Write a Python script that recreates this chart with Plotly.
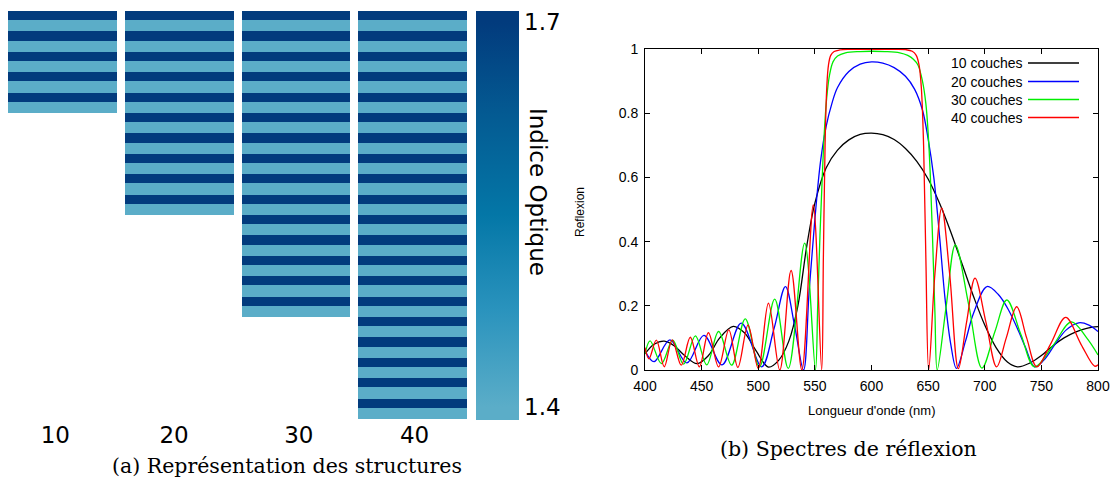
import plotly.graph_objects as go

# ---------------- data: structures ----------------
layer_counts = [10, 20, 30, 40]
stack_labels = ["10", "20", "30", "40"]
n_high = 1.7
n_low = 1.4
d_high = 88.2    # nm, high-index layer thickness
d_low = 107.1    # nm, low-index layer thickness
cbar_ticks = [1.4, 1.7]

# ---------------- data: spectra ----------------
wl10 = [400, 408, 417, 426, 435, 446, 456, 466, 478, 488, 498, 509, 518, 527, 535, 543, 550, 560, 570, 580,
        590, 600, 610, 620, 630, 640, 650, 660, 670, 680, 690, 700, 710, 720, 729, 740, 750, 760, 770, 780, 790, 800]
R10 = [0.05, 0.08, 0.09, 0.075, 0.045, 0.02, 0.045, 0.1, 0.136, 0.115, 0.06, 0.009, 0.03, 0.09, 0.2, 0.39, 0.52,
       0.63, 0.685, 0.717, 0.734, 0.738, 0.733, 0.718, 0.69, 0.65, 0.595, 0.52, 0.43, 0.33, 0.23, 0.14, 0.07,
       0.025, 0.01, 0.022, 0.045, 0.075, 0.1, 0.118, 0.13, 0.135]

wl20 = [400, 408, 422, 437, 452, 468, 485, 503, 514, 524, 532, 540, 545, 550, 555, 560, 565, 570, 580, 590,
        600, 610, 620, 630, 638, 645, 650, 655, 660, 665, 670, 675, 683, 690, 702, 712, 721, 730, 736, 744,
        752, 762, 772, 783, 792, 800]
R20 = [0.06, 0.026, 0.094, 0.022, 0.108, 0.016, 0.146, 0.01, 0.13, 0.26, 0.14, 0.0, 0.25, 0.47, 0.65, 0.76,
       0.83, 0.88, 0.93, 0.953, 0.96, 0.956, 0.942, 0.915, 0.875, 0.81, 0.72, 0.6, 0.42, 0.22, 0.08, 0.005,
       0.09, 0.176, 0.26, 0.235, 0.187, 0.12, 0.07, 0.01, 0.03, 0.08, 0.125, 0.147, 0.14, 0.12]

wl30 = [400, 404.5, 414.5, 424.5, 434, 444.5, 454.5, 465, 476.5, 488.5, 501, 514.5, 526.5, 541, 550.5, 552.5,
        554.5, 556.5, 558.5, 560.5, 563, 566, 570, 577, 590, 600, 612, 625, 632, 637, 641, 645, 648, 650, 652,
        654, 656, 658, 666, 674, 686, 697.5, 709, 719.5, 732, 744, 760, 776.5, 790, 800]
R30 = [0.05, 0.091, 0.02, 0.093, 0.018, 0.106, 0.016, 0.12, 0.015, 0.159, 0.01, 0.221, 0.005, 0.395, 0.0, 0.2,
       0.42, 0.6, 0.75, 0.85, 0.92, 0.96, 0.978, 0.988, 0.992, 0.993, 0.992, 0.988, 0.98, 0.968, 0.95, 0.9,
       0.83, 0.74, 0.6, 0.4, 0.18, 0.0, 0.2, 0.39, 0.2, 0.006, 0.12, 0.218, 0.11, 0.01, 0.075, 0.15, 0.1, 0.047]

wl40 = [400, 403.5, 410, 417, 424, 432, 440, 448, 456, 465, 474, 482, 491, 500, 509, 519, 529, 538.5, 548.6,
        556, 557.5, 559, 560.5, 562, 564, 567, 572, 580, 600, 620, 630, 636, 639.5, 642, 644, 646, 648, 650.5,
        656, 662, 669, 676.7, 684, 691.4, 701, 710.5, 719, 728.2, 737, 746, 758, 771.5, 785, 797, 800]
R40 = [0.07, 0.035, 0.093, 0.01, 0.094, 0.015, 0.102, 0.01, 0.116, 0.01, 0.125, 0.008, 0.14, 0.005, 0.208,
       0.0, 0.31, 0.0, 0.514, 0.0, 0.35, 0.7, 0.88, 0.95, 0.98, 0.992, 0.997, 0.999, 0.999, 0.999, 0.998,
       0.993, 0.98, 0.95, 0.88, 0.7, 0.35, 0.0, 0.3, 0.505, 0.3, 0.004, 0.15, 0.286, 0.15, 0.01, 0.1, 0.197,
       0.1, 0.01, 0.08, 0.164, 0.08, 0.012, 0.016]

series_names = ["10 couches", "20 couches", "30 couches", "40 couches"]
series_wl = [wl10, wl20, wl30, wl40]
series_R = [R10, R20, R30, R40]
series_colors = ["#000000", "#0000ff", "#00ee00", "#ff0000"]

# ---------------- figure ----------------
W, H = 1118, 484
def fx(p):
    return p / W
def fy(p):
    return 1 - p / H

max_layers = max(layer_counts)
edges = [0.0]
for i in range(max_layers):
    edges.append(edges[-1] + (d_high if i % 2 == 0 else d_low))
z = [[(n_high if i % 2 == 0 else n_low) if i < n else None for n in layer_counts]
     for i in range(max_layers)]

zmin, zmax = 1.3899, 1.7087
light, dark = "#5badc8", "#023b7d"
colorscale = [[0.0, light], [0.032, light], [0.27, "#2a93bd"], [0.5, "#0477a7"],
              [0.75, "#045a92"], [0.973, dark], [1.0, dark]]

# small horizontal nudges of the stack labels (in pixels), as in the original
label_nudge_px = [-7, -5, 3, 2]
col_px = (471 - 4) / len(layer_counts)
label_pos = [i + d / col_px for i, d in enumerate(label_nudge_px)]

fig = go.Figure()
fig.add_trace(go.Heatmap(
    z=z, x=list(range(len(layer_counts))), y=edges,
    zmin=zmin, zmax=zmax, colorscale=colorscale, xgap=8, ygap=0,
    hoverinfo="skip", xaxis="x", yaxis="y",
    colorbar=dict(
        x=fx(476), xanchor="left", xpad=0, xref="paper",
        y=fy(11), yanchor="top", ypad=0, yref="paper",
        len=409, lenmode="pixels", thickness=43, thicknessmode="pixels",
        outlinewidth=0, tickvals=cbar_ticks, ticktext=[str(v) for v in cbar_ticks],
        ticks="", tickfont=dict(family="DejaVu Sans", size=23, color="black"),
    ),
))

for name, xs, ys, col in zip(series_names, series_wl, series_R, series_colors):
    fig.add_trace(go.Scatter(
        x=xs, y=ys, mode="lines", name=name, xaxis="x2", yaxis="y2",
        line=dict(color=col, width=1.3, shape="spline", smoothing=1.0),
        showlegend=False, hoverinfo="skip",
    ))

annotations = []
shapes = []
legend_y = [63, 81.5, 99.5, 117.5]
for name, col, ly in zip(series_names, series_colors, legend_y):
    annotations.append(dict(x=fx(1025), y=fy(ly), xref="paper", yref="paper", text=name,
                            showarrow=False, xanchor="right", yanchor="middle",
                            font=dict(family="Liberation Sans", size=14, color="black")))
    shapes.append(dict(type="line", xref="paper", yref="paper", x0=fx(1028), x1=fx(1079),
                       y0=fy(ly), y1=fy(ly), line=dict(color=col, width=1.3)))

annotations += [
    dict(x=fx(538), y=fy(192), xref="paper", yref="paper", text="Indice Optique", textangle=90,
         showarrow=False, xanchor="center", yanchor="middle",
         font=dict(family="DejaVu Sans", size=23, color="black")),
    dict(x=fx(872), y=fy(410), xref="paper", yref="paper", text="Longueur d'onde (nm)",
         showarrow=False, xanchor="center", yanchor="middle",
         font=dict(family="Liberation Sans", size=13, color="black")),
    dict(x=fx(580), y=fy(212), xref="paper", yref="paper", text="Reflexion", textangle=-90,
         showarrow=False, xanchor="center", yanchor="middle",
         font=dict(family="Liberation Sans", size=12, color="black")),
    dict(x=fx(287), y=fy(466), xref="paper", yref="paper", text="(a) Représentation des structures",
         showarrow=False, xanchor="center", yanchor="middle",
         font=dict(family="DejaVu Serif", size=20.5, color="black")),
    dict(x=fx(848), y=fy(449), xref="paper", yref="paper", text="(b) Spectres de réflexion",
         showarrow=False, xanchor="center", yanchor="middle",
         font=dict(family="DejaVu Serif", size=20.5, color="black")),
]

fig.update_layout(
    width=W, height=H, margin=dict(l=0, r=0, t=0, b=0, autoexpand=False),
    paper_bgcolor="white", plot_bgcolor="white", showlegend=False,
    xaxis=dict(domain=[fx(4), fx(471)], range=[-0.5, len(layer_counts) - 0.5], anchor="y",
               tickvals=label_pos, ticktext=stack_labels, ticks="",
               showgrid=False, zeroline=False, showline=False, automargin=False,
               tickfont=dict(family="DejaVu Sans", size=23, color="black")),
    yaxis=dict(domain=[fy(419), fy(11)], range=[edges[-1], 0], anchor="x", visible=False,
               showgrid=False, zeroline=False, automargin=False),
    xaxis2=dict(domain=[fx(645), fx(1098)], range=[400, 800], anchor="y2", dtick=50, tick0=400,
                ticks="inside", ticklen=5, tickcolor="black", showline=True, linecolor="black",
                linewidth=1, mirror="ticks", showgrid=False, zeroline=False, automargin=False,
                ticklabelstandoff=3,
                tickfont=dict(family="Liberation Sans", size=14, color="black")),
    yaxis2=dict(domain=[fy(370), fy(49)], range=[0, 1], anchor="x2", dtick=0.2, tick0=0,
                ticks="inside", ticklen=5, tickcolor="black", showline=True, linecolor="black",
                linewidth=1, mirror="ticks", showgrid=False, zeroline=False, automargin=False,
                ticklabelstandoff=3,
                tickfont=dict(family="Liberation Sans", size=14, color="black")),
    annotations=annotations, shapes=shapes,
)

fig.write_html("out.html", config={"displayModeBar": False},
               post_script="document.body.style.margin='0px';")
